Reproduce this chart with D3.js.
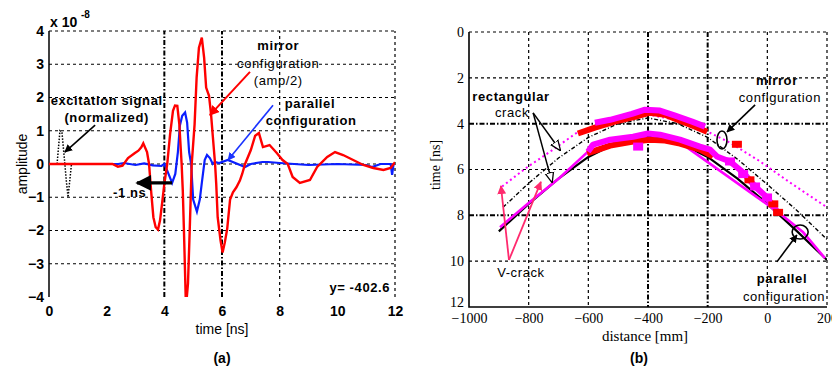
<!DOCTYPE html>
<html>
<head>
<meta charset="utf-8">
<style>
body { margin: 0; background: #fff; }
svg { display: block; font-family: "Liberation Sans", Arial, sans-serif; }
.grid { stroke: #000; fill: none; stroke-width: 1.2; stroke-dasharray: 3,3; }
.grid.major { stroke-width: 2; stroke-dasharray: 5,2,1.5,2; }
.axisA text { font: bold 14px "Liberation Sans", Arial, sans-serif; fill: #000; }
.axisB text { font: 14px "Liberation Serif", "Times New Roman", serif; fill: #000; }
.axisA path, .axisB path, .axisA line, .axisB line { display: none; }
.note { font-size: 13px; fill: #000; letter-spacing: 0.6px; }
.bold { font-weight: bold; }
</style>
</head>
<body>
<svg width="832" height="370"></svg>
<script src="https://d3js.org/d3.v7.min.js"></script>
<script>

// ---- panel (a): time signals, amplitude in units of 1e-8 ----
var mirrorT = [0, 2.2, 2.39, 2.55, 2.74, 2.98, 3.1, 3.2, 3.27, 3.4, 3.47, 3.55, 3.62, 3.7, 3.78, 3.85, 3.92, 4.0, 4.1, 4.2, 4.3, 4.37, 4.45, 4.52, 4.6, 4.64, 4.68, 4.75, 4.82, 4.88, 4.95, 5.05, 5.12, 5.2, 5.3, 5.38, 5.45, 5.55, 5.62, 5.68, 5.76, 5.8, 5.85, 5.95, 6.02, 6.1, 6.18, 6.28, 6.38, 6.5, 6.62, 6.7, 6.8, 7.0, 7.15, 7.28, 7.42, 7.65, 7.9, 8.1, 8.28, 8.45, 8.7, 9.05, 9.3, 9.65, 9.92, 10.2, 10.55, 10.9, 11.25, 11.6, 11.85, 12];
var mirrorA = [0, 0, -0.08, -0.05, 0.18, 0.33, 0.4, 0.5, 0.62, 0.36, 0, -0.9, -1.6, -1.9, -1.97, -1.7, -1.2, -0.6, 0, 0.9, 1.6, 1.76, 1.75, 1.2, 0, -0.8, -2.0, -4.3, -3.6, -2.0, 0, 1.2, 2.6, 3.5, 3.8, 3.2, 2.3, 2.05, 1.5, 0.85, 0, -0.6, -1.6, -2.3, -2.66, -2.35, -1.95, -1.07, -0.85, -0.7, -0.5, -0.3, 0, 0.42, 0.85, 0.93, 0.51, 0.57, 0.33, 0.12, 0, -0.39, -0.57, -0.48, -0.09, 0.21, 0.36, 0.27, 0.12, -0.03, -0.12, -0.18, -0.12, 0.05];

var parallelT = [0, 2.4, 2.6, 3.0, 3.3, 3.6, 3.9, 4.0, 4.1, 4.27, 4.38, 4.47, 4.54, 4.62, 4.72, 4.79, 4.86, 4.93, 5.0, 5.13, 5.23, 5.3, 5.4, 5.48, 5.58, 5.68, 5.75, 5.9, 6.2, 6.8, 7.0, 7.4, 7.6, 8.0, 8.5, 9.0, 10.0, 11.0, 11.2, 11.5, 11.85, 11.9, 11.95, 12];
var parallelA = [0, 0, 0.03, -0.03, 0.02, -0.04, -0.06, 0, -0.2, -0.57, -0.3, 0.36, 1.16, 1.45, 1.55, 1.25, 0.36, 0, -1.07, -1.43, -1.07, -0.57, 0.12, 0.27, 0.18, 0, 0.06, 0.03, 0.12, -0.09, 0, 0.06, 0.06, 0.03, 0, -0.03, 0, -0.03, -0.09, 0, 0, -0.33, 0, 0];

var excitT = [0.28, 0.38, 0.45, 0.55, 0.6, 0.66, 0.72, 0.78];
var excitA = [0, 1.0, 0.95, 0, -0.5, -1.0, -0.5, 0];

var xTicksA = [0, 2, 4, 6, 8, 10, 12];
var yTicksA = [-4, -3, -2, -1, 0, 1, 2, 3, 4];

// ---- panel (b): arrival time vs distance ----
var bandUpperMagenta = [[-578, 3.96], [-527, 3.83], [-454, 3.57], [-410, 3.39], [-360, 3.43], [-309, 3.65], [-252, 3.91], [-209, 4.13]];
var bandUpperRed = [[-635, 4.43], [-578, 4.17], [-511, 3.91], [-444, 3.7], [-393, 3.52], [-343, 3.61], [-293, 3.87], [-242, 4.13], [-202, 4.35]];
var bandLowerMagenta = [[-601, 5.22], [-584, 4.91], [-527, 4.7], [-450, 4.57], [-400, 4.43], [-360, 4.48], [-293, 4.7], [-226, 5.0], [-192, 5.13], [-169, 5.43], [-125, 5.65], [-81, 6.13], [-41, 6.74], [-1, 7.22], [33, 7.83]];
var bandLowerRed = [[-604, 5.3], [-527, 4.96], [-450, 4.78], [-393, 4.7], [-343, 4.74], [-293, 4.87], [-226, 5.13], [-182, 5.43]];
var lineMagenta = [[-896, 8.52], [-802, 7.48], [-695, 6.35], [-601, 5.22], [-450, 4.6], [-300, 4.75], [33, 7.83], [66, 8.17], [120, 8.74], [193, 9.87]];
var dotMagenta = [[-889, 6.74], [-806, 5.91], [-728, 5.22], [-638, 4.39], [-500, 3.9], [-400, 3.6], [-300, 3.85], [-200, 4.35], [-125, 4.83], [-24, 5.65], [76, 6.57], [200, 7.65]];
var theoryParallel = [[-900, 8.7], [-800, 7.5], [-700, 6.4], [-600, 5.45], [-500, 4.8], [-400, 4.55], [-300, 4.8], [-200, 5.45], [-100, 6.4], [0, 7.5], [100, 8.7], [200, 9.95]];
var theoryMirror = [[-886, 7.65], [-800, 6.6], [-700, 5.5], [-600, 4.6], [-500, 4.0], [-400, 3.75], [-300, 4.0], [-200, 4.6], [-100, 5.55], [0, 6.65], [100, 7.8], [200, 9.05]];
var blobMagenta = [[-125, 5.65], [-81, 6.2], [-41, 6.74], [-1, 7.22], [-433, 5.0]];
var blobRed = [[36, 7.87], [-102, 4.9], [-60, 6.45], [20, 7.5]];

var xTicksB = [-1000, -800, -600, -400, -200, 0, 200];
var yTicksB = [0, 2, 4, 6, 8, 10, 12];

var svg = d3.select("svg");

var defs = svg.append("defs");
defs.append("clipPath").attr("id", "clipA")
  .append("rect").attr("x", 49).attr("y", 31).attr("width", 346).attr("height", 266);
defs.append("clipPath").attr("id", "clipB")
  .append("rect").attr("x", 469).attr("y", 32).attr("width", 358).attr("height", 275);

function arrowHead(id, color, open) {
  defs.append("marker")
    .attr("id", id)
    .attr("viewBox", "0 0 10 10")
    .attr("refX", 9).attr("refY", 5)
    .attr("markerWidth", open ? 7 : 5).attr("markerHeight", open ? 7 : 5)
    .attr("markerUnits", "strokeWidth")
    .attr("orient", "auto")
    .append("path")
    .attr("d", open ? "M0,1 L10,5 L0,9 Z" : "M0,0 L10,5 L0,10 Z")
    .attr("fill", open ? "#fff" : color)
    .attr("stroke", color)
    .attr("stroke-width", open ? 1.2 : 0);
}
arrowHead("ahBlack", "#000", false);
arrowHead("ahRed", "#ff0000", false);
arrowHead("ahBlue", "#1a33ff", false);
arrowHead("ahPink", "#ff2a6e", false);
arrowHead("ahOpen", "#000", true);

// ================= panel (a) =================
var xa = d3.scaleLinear().domain([0, 12]).range([49, 395]);
var ya = d3.scaleLinear().domain([-4, 4]).range([297, 31]);

var ga = svg.append("g");

ga.selectAll(".hgrid").data([-3, -2, -1, 0, 1, 2, 3, 4]).enter().append("line")
  .attr("class", "grid")
  .attr("x1", xa(0)).attr("x2", xa(12))
  .attr("y1", function(d) { return ya(d); }).attr("y2", function(d) { return ya(d); });
ga.selectAll(".vgrid").data([4, 6, 8, 12]).enter().append("line")
  .attr("class", function(d) { return d == 4 || d == 6 ? "grid major" : "grid"; })
  .attr("y1", ya(-4)).attr("y2", ya(4))
  .attr("x1", function(d) { return xa(d); }).attr("x2", function(d) { return xa(d); });
ga.append("line").attr("x1", xa(0)).attr("x2", xa(0)).attr("y1", ya(-4)).attr("y2", ya(4))
  .attr("stroke", "#000").attr("stroke-width", 1.5);

ga.append("g").attr("class", "axisA")
  .attr("transform", "translate(" + xa(0) + ",0)")
  .call(d3.axisLeft(ya).tickValues(yTicksA).tickSize(0).tickPadding(5).tickFormat(d3.format("d")));
ga.append("g").attr("class", "axisA")
  .attr("transform", "translate(0," + ya(-4) + ")")
  .call(d3.axisBottom(xa).tickValues(xTicksA).tickSize(0).tickPadding(9));

var lineA = d3.line()
  .x(function(d) { return xa(d[0]); })
  .y(function(d) { return ya(d[1]); });

var plotA = ga.append("g").attr("clip-path", "url(#clipA)");
plotA.append("path")
  .datum(d3.zip(excitT, excitA))
  .attr("d", lineA).attr("fill", "none").attr("stroke", "#000")
  .attr("stroke-width", 1.5).attr("stroke-dasharray", "1.5,1.5");
plotA.append("path")
  .datum(d3.zip(parallelT, parallelA))
  .attr("d", lineA).attr("fill", "none").attr("stroke", "#0a1eff").attr("stroke-width", 2.2);
plotA.append("path")
  .datum(d3.zip(mirrorT, mirrorA))
  .attr("d", lineA).attr("fill", "none").attr("stroke", "#ff0000").attr("stroke-width", 2.4);

// exponent
ga.append("text").attr("x", 50).attr("y", 27).attr("font-size", 14).attr("font-weight", "bold").text("x 10");
ga.append("text").attr("x", 81).attr("y", 18).attr("font-size", 10).attr("font-weight", "bold").text("-8");

// axis labels
ga.append("text").attr("transform", "translate(27," + ya(0) + ") rotate(-90)")
  .attr("text-anchor", "middle").attr("font-size", 14).text("amplitude");
ga.append("text").attr("x", xa(6)).attr("y", 334).attr("text-anchor", "middle")
  .attr("font-size", 14).text("time [ns]");
ga.append("text").attr("x", xa(6)).attr("y", 363).attr("text-anchor", "middle")
  .attr("font-size", 14).attr("font-weight", "bold").text("(a)");

// annotations (a)
function note(g, x, y, txt, cls, anchor) {
  g.append("text").attr("class", "note " + (cls || ""))
    .attr("x", x).attr("y", y).attr("text-anchor", anchor || "middle").text(txt);
}
function arrow(g, p0, p1, color, marker, w) {
  g.append("line")
    .attr("x1", p0[0]).attr("y1", p0[1]).attr("x2", p1[0]).attr("y2", p1[1])
    .attr("stroke", color).attr("stroke-width", w || 1.6)
    .attr("marker-end", "url(#" + marker + ")");
}

note(ga, xa(2.0), ya(1.77), "excitation signal", "bold");
note(ga, xa(2.0), ya(1.26), "(normalized)", "bold");
arrow(ga, [xa(1.6), ya(1.17)], [xa(0.55), ya(0.36)], "#000", "ahBlack");

note(ga, xa(7.95), ya(3.43), "mirror", "bold");
note(ga, xa(7.95), ya(2.89), "configuration");
note(ga, xa(7.95), ya(2.38), "(amp/2)");
arrow(ga, [xa(6.97), ya(2.77)], [xa(5.58), ya(1.47)], "#ff0000", "ahRed", 2);

note(ga, xa(9.05), ya(1.68), "parallel", "bold");
note(ga, xa(9.09), ya(1.17), "configuration", "bold");
arrow(ga, [xa(7.77), ya(1.77)], [xa(6.21), ya(0.12)], "#1a33ff", "ahBlue", 1.6);

arrow(ga, [xa(4.27), ya(-0.57)], [xa(3.05), ya(-0.57)], "#000", "ahBlack", 3.2);
note(ga, xa(2.22), ya(-1.0), "-1 ns", "bold", "start");

note(ga, xa(11.83), ya(-3.85), "y= -402.6", "bold", "end");

// ================= panel (b) =================
var xb = d3.scaleLinear().domain([-1000, 200]).range([469, 827]);
var yb = d3.scaleLinear().domain([0, 12]).range([32, 307]);

var gb = svg.append("g");

gb.selectAll(".hgrid").data([0, 2, 4, 6, 8, 10]).enter().append("line")
  .attr("class", function(d) { return d == 4 || d == 8 ? "grid major" : "grid"; })
  .attr("x1", xb(-1000)).attr("x2", xb(200))
  .attr("y1", function(d) { return yb(d); }).attr("y2", function(d) { return yb(d); });
gb.selectAll(".vgrid").data([-800, -600, -400, -200, 0, 200]).enter().append("line")
  .attr("class", function(d) { return d == -400 || d == -200 ? "grid major" : "grid"; })
  .attr("y1", yb(0)).attr("y2", yb(12))
  .attr("x1", function(d) { return xb(d); }).attr("x2", function(d) { return xb(d); });
gb.append("path")
  .attr("d", "M" + xb(-1000) + "," + yb(0) + "V" + yb(12) + "H" + xb(200))
  .attr("fill", "none").attr("stroke", "#000").attr("stroke-width", 1.6);

var yAxisB = gb.append("g").attr("class", "axisB")
  .attr("transform", "translate(" + xb(-1000) + ",0)")
  .call(d3.axisLeft(yb).tickValues(yTicksB).tickSize(0).tickPadding(5));
// the last label sits just above the first x label, as in the original
yAxisB.selectAll(".tick text").filter(function(d) { return d == 12; }).attr("dy", "-0.05em");
gb.append("g").attr("class", "axisB")
  .attr("transform", "translate(0," + yb(12) + ")")
  .call(d3.axisBottom(xb).tickValues(xTicksB).tickSize(0).tickPadding(6).tickFormat(d3.format("d")));

var lineB = d3.line()
  .x(function(d) { return xb(d[0]); })
  .y(function(d) { return yb(d[1]); });

var plotB = gb.append("g").attr("clip-path", "url(#clipB)");
plotB.append("path").datum(theoryMirror).attr("d", lineB)
  .attr("fill", "none").attr("stroke", "#000").attr("stroke-width", 1.4).attr("stroke-dasharray", "4,2,1,2");
plotB.append("path").datum(dotMagenta).attr("d", lineB)
  .attr("fill", "none").attr("stroke", "#ff00ff").attr("stroke-width", 2).attr("stroke-dasharray", "2,3");
plotB.append("path").datum(theoryParallel).attr("d", lineB)
  .attr("fill", "none").attr("stroke", "#000").attr("stroke-width", 2.2);
plotB.append("path").datum(lineMagenta).attr("d", lineB)
  .attr("fill", "none").attr("stroke", "#ff00ff").attr("stroke-width", 2.6);

[[bandUpperRed, "#ff0000"], [bandUpperMagenta, "#ff00ff"], [bandLowerRed, "#ff0000"], [bandLowerMagenta, "#ff00ff"]]
  .forEach(function(b) {
    plotB.append("path").datum(b[0]).attr("d", lineB)
      .attr("fill", "none").attr("stroke", b[1]).attr("stroke-width", 6)
      .attr("stroke-linejoin", "round");
  });

plotB.selectAll(".blobR").data(blobRed).enter().append("rect")
  .attr("x", function(d) { return xb(d[0]) - 5; }).attr("y", function(d) { return yb(d[1]) - 3.5; })
  .attr("width", 10).attr("height", 7).attr("fill", "#ff0000");
plotB.selectAll(".blobM").data(blobMagenta).enter().append("rect")
  .attr("x", function(d) { return xb(d[0]) - 5; }).attr("y", function(d) { return yb(d[1]) - 4; })
  .attr("width", 10).attr("height", 8).attr("fill", "#ff00ff");

// axis labels (b)
gb.append("text").attr("transform", "translate(440," + yb(5.8) + ") rotate(-90)")
  .attr("text-anchor", "middle").attr("font-size", 14)
  .attr("font-family", "Liberation Serif, serif").text("time [ns]");
gb.append("text").attr("x", xb(-410)).attr("y", 341).attr("text-anchor", "middle")
  .attr("font-size", 15).attr("font-family", "Liberation Serif, serif").text("distance [mm]");
gb.append("text").attr("x", xb(-430)).attr("y", 363).attr("text-anchor", "middle")
  .attr("font-size", 14).attr("font-weight", "bold").text("(b)");

// annotations (b)
note(gb, xb(-859), yb(3.01), "rectangular", "bold");
note(gb, xb(-856), yb(3.71), "crack");
arrow(gb, [xb(-785), yb(3.53)], [xb(-695), yb(5.15)], "#000", "ahOpen", 1.5);
arrow(gb, [xb(-785), yb(3.53)], [xb(-722), yb(6.54)], "#000", "ahOpen", 1.5);

arrow(gb, [xb(-866), yb(9.95)], [xb(-893), yb(6.72)], "#ff2a6e", "ahPink", 1.8);
arrow(gb, [xb(-866), yb(9.95)], [xb(-759), yb(6.54)], "#ff2a6e", "ahPink", 1.8);
note(gb, xb(-826), yb(10.69), "V-crack");

note(gb, xb(32), yb(2.31), "mirror", "bold");
note(gb, xb(42), yb(3.05), "configuration");
arrow(gb, [xb(-41), yb(3.18)], [xb(-135), yb(4.36)], "#000", "ahBlack", 1.6);
gb.append("ellipse").attr("cx", xb(-152)).attr("cy", yb(4.71)).attr("rx", 5).attr("ry", 9)
  .attr("fill", "none").attr("stroke", "#000").attr("stroke-width", 1.6);

note(gb, xb(49), yb(10.95), "parallel", "bold");
note(gb, xb(56), yb(11.74), "configuration");
arrow(gb, [xb(32), yb(10.03)], [xb(99), yb(8.86)], "#000", "ahBlack", 1.6);
gb.append("ellipse").attr("cx", xb(110)).attr("cy", yb(8.73)).attr("rx", 8).attr("ry", 7)
  .attr("fill", "none").attr("stroke", "#000").attr("stroke-width", 1.6);

</script>
</body>
</html>
